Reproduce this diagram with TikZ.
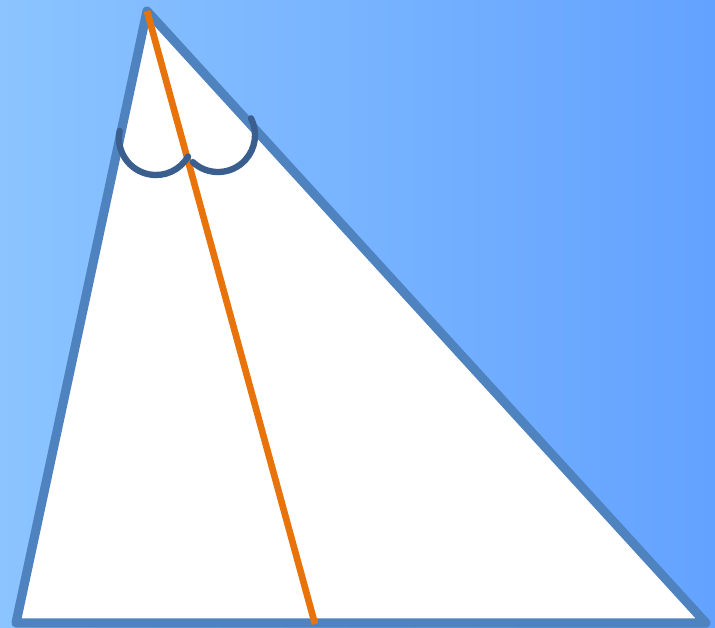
\documentclass[tikz,border=0pt]{standalone}
\usetikzlibrary{calc}
\definecolor{bgleft}{RGB}{139,196,255}
\definecolor{bgright}{RGB}{99,162,255}
\definecolor{sideblue}{RGB}{79,131,192}
\definecolor{arcblue}{RGB}{58,95,143}
\definecolor{bisector}{RGB}{232,115,10}
\begin{document}
\begin{tikzpicture}[x=0.02cm, y=-0.02cm,
  side/.style={draw=sideblue, line width=5.2pt, line join=round, fill=white},
  anglemark/.style={draw=arcblue, line width=3.6pt, line cap=round},
  bisect/.style={draw=bisector, line width=3.8pt}]
\shade[left color=bgleft, right color=bgright] (0,0) rectangle (715,627);
\useasboundingbox (0,0) rectangle (715,627);
\coordinate (top) at (147,11);
\coordinate (left) at (16,623);
\coordinate (right) at (706,623);
\coordinate (foot) at (315,624);
\draw[side] (top) -- (left) -- (right) -- cycle;
\draw[bisect] (top) -- (foot);
% angle marks
\draw[anglemark] ($(156,138)+(169:0.74cm)$) arc[start angle=169, end angle=330, radius=0.74cm];
\draw[anglemark] ($(218,135)+(227:0.74cm)$) arc[start angle=227, end angle=387, radius=0.74cm];
\end{tikzpicture}
\end{document}
